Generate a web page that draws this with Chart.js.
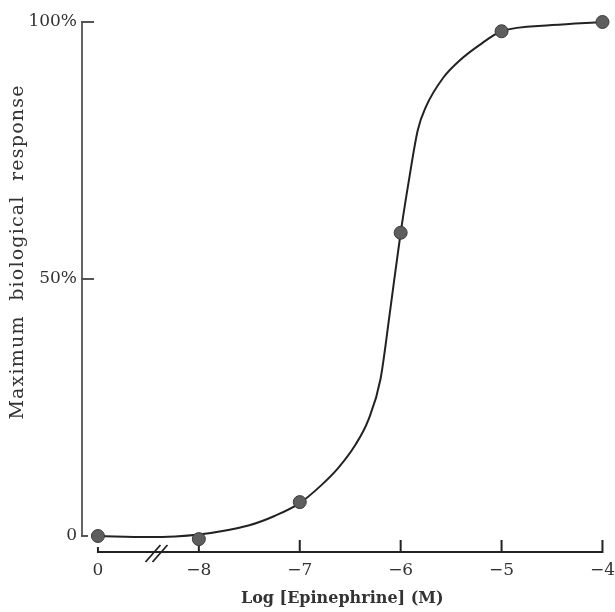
<!DOCTYPE html>
<html>
<head>
<meta charset="utf-8">
<script src="https://cdn.jsdelivr.net/npm/chart.js@4.4.1/dist/chart.umd.min.js"></script>
<style>
    body { margin: 0; background: #fff; }
    #wrap { width: 615px; height: 612px; }
</style>
</head>
<body>
<div id="wrap"><canvas id="doseChart"></canvas></div>
<script>
// Dose positions (log units; the "0" dose sits one slot left of -8, after the break)
const doseX = [-9, -8, -7, -6, -5, -4];
const response = [0, -0.6, 6.6, 59, 98.2, 100];

// Fitted curve
const curveX = [-9, -8.5, -8, -7.5, -7.25, -7, -6.78, -6.62, -6.45, -6.32, -6.2, -6.1, -6, -5.92, -5.83, -5.75, -5.58, -5.41, -5.22, -5, -4.5, -4];
const curveY = [0, -0.2, 0.3, 2.1, 3.9, 6.4, 10.0, 13.2, 17.7, 22.6, 30.5, 44.5, 59, 69, 79, 83.5, 89.1, 92.6, 95.5, 98.2, 99.4, 100];

// Tick labels
const xTicks = [-9, -8, -7, -6, -5, -4];
const xTickLabels = ['0', '−8', '−7', '−6', '−5', '−4'];
const yTicks = [0, 50, 100];
const yTickLabels = ['0', '50%', '100%'];

const breakAt = -8.42;
const serif = '"DejaVu Serif", "Liberation Serif", serif';

// Axes drawn by hand: detached y and x axes with inward ticks and a break mark
const handAxes = {
    id: 'handAxes',
    beforeDatasetsDraw(chart) {
        const { ctx, chartArea, scales: { x, y } } = chart;
        const left = chartArea.left;
        const bottom = chartArea.bottom;
        ctx.save();
        ctx.lineCap = 'butt';

        // y axis
        ctx.strokeStyle = '#555';
        ctx.lineWidth = 1.8;
        ctx.beginPath();
        ctx.moveTo(left, y.getPixelForValue(0) + 1);
        ctx.lineTo(left, y.getPixelForValue(100) - 1);
        yTicks.forEach(v => {
            const py = y.getPixelForValue(v);
            ctx.moveTo(left - 1, py);
            ctx.lineTo(left + (v === 0 ? 6 : 12), py);
        });
        ctx.stroke();

        // x axis
        ctx.strokeStyle = '#222';
        ctx.lineWidth = 2;
        ctx.beginPath();
        ctx.moveTo(x.getPixelForValue(xTicks[0]) - 1, bottom);
        ctx.lineTo(x.getPixelForValue(xTicks[xTicks.length - 1]) + 1, bottom);
        xTicks.forEach((v, i) => {
            const px = x.getPixelForValue(v);
            const len = i === 0 ? 5 : (i === 1 ? 8 : 12);
            ctx.moveTo(px, bottom + 1);
            ctx.lineTo(px, bottom - len);
        });
        ctx.stroke();

        // break //
        const bx = x.getPixelForValue(breakAt);
        ctx.lineWidth = 1.8;
        ctx.beginPath();
        ctx.moveTo(bx - 11, bottom + 10);
        ctx.lineTo(bx + 4, bottom - 7);
        ctx.moveTo(bx - 4, bottom + 10);
        ctx.lineTo(bx + 11, bottom - 7);
        ctx.stroke();
        ctx.restore();
    },
    afterDraw(chart) {
        // y title
        const { ctx } = chart;
        ctx.save();
        ctx.translate(18, 252);
        ctx.rotate(-Math.PI / 2);
        ctx.font = '19px ' + serif;
        ctx.letterSpacing = '1.2px';
        ctx.fillStyle = '#333';
        ctx.textAlign = 'center';
        ctx.textBaseline = 'middle';
        ctx.fillText('Maximum  biological  response', 0, 0);
        ctx.restore();
    }
};

const ctx = document.getElementById('doseChart').getContext('2d');

const doseChart = new Chart(ctx, {
    type: 'scatter',
    data: {
        datasets: [{
            label: 'Response',
            data: doseX.map((v, i) => ({ x: v, y: response[i] })),
            pointRadius: 6.5,
            pointBackgroundColor: '#5e5e5e',
            pointBorderColor: '#3a3a3a',
            pointBorderWidth: 1,
            showLine: false,
            clip: false,
            order: 0
        }, {
            label: 'Fit',
            data: curveX.map((v, i) => ({ x: v, y: curveY[i] })),
            showLine: true,
            borderColor: '#222',
            borderWidth: 2,
            pointRadius: 0,
            cubicInterpolationMode: 'monotone',
            clip: false,
            order: 1
        }]
    },
    options: {
        responsive: true,
        maintainAspectRatio: false,
        animation: false,
        layout: { padding: { top: 22, right: 10, bottom: 0, left: 0 } },
        plugins: {
            legend: { display: false },
            tooltip: { enabled: false }
        },
        scales: {
            x: {
                type: 'linear',
                min: -9.158,
                max: -4,
                grid: { display: false },
                border: { display: false },
                afterBuildTicks: scale => { scale.ticks = xTicks.map(v => ({ value: v })); },
                afterFit: scale => { scale.height = 60; },
                ticks: {
                    padding: 0,
                    color: '#333',
                    font: { family: serif, size: 17 },
                    callback: value => xTickLabels[xTicks.indexOf(value)]
                },
                title: {
                    display: true,
                    text: 'Log [Epinephrine] (M)',
                    color: '#333',
                    font: { family: serif, size: 16, weight: 'bold' }
                }
            },
            y: {
                type: 'linear',
                min: -3.11,
                max: 100,
                grid: { display: false },
                border: { display: false },
                afterBuildTicks: scale => { scale.ticks = yTicks.map(v => ({ value: v })); },
                afterFit: scale => { scale.width = 82; },
                ticks: {
                    padding: -3,
                    color: '#333',
                    font: { family: serif, size: 17 },
                    callback: value => yTickLabels[yTicks.indexOf(value)]
                }
            }
        }
    },
    plugins: [handAxes]
});
</script>
</body>
</html>
